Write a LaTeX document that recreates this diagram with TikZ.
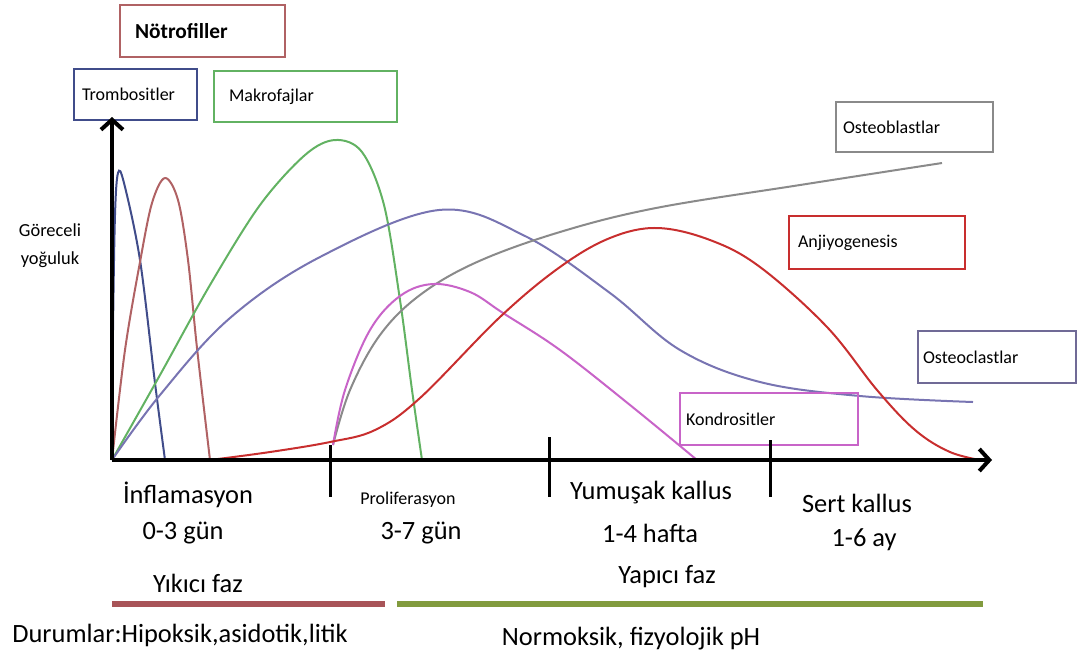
\documentclass[tikz,border=0pt]{standalone}
\usepackage{fontspec}
\setmainfont{Carlito}
\usepackage{xcolor}
\usepackage{tikz}
\usetikzlibrary{arrows.meta,calc,backgrounds}
\definecolor{rose3} {RGB} {176, 98, 100}
\definecolor{navy4} {RGB} {64, 76, 138}
\definecolor{leaf3} {RGB} {98, 178, 98}
\definecolor{slate5} {RGB} {138, 138, 138}
\definecolor{crimson2} {RGB} {200, 46, 46}
\definecolor{lilac4} {RGB} {120, 116, 178}
\definecolor{lilac6} {RGB} {112, 106, 150}
\definecolor{orchid3} {RGB} {200, 100, 200}
\definecolor{brick2} {RGB} {168, 84, 88}
\definecolor{olive3} {RGB} {130, 155, 62}
\tikzstyle{healing}=[
  x=0.5pt, y=-0.5pt, >={Straight Barb[length=5pt,width=11pt]}
]
\tikzstyle{cellbox}=[
  draw, line width=1pt, anchor=west, align=left, minimum height=26pt,
  font=\fontsize{9}{11}\selectfont
]
\tikzstyle{cellcurve}=[
  line width=1pt
]
\tikzstyle{phase}=[
  font=\fontsize{13.2}{16}\selectfont, inner sep=0pt
]
\tikzstyle{axisline}=[
  line width=2pt, ->
]
\tikzstyle{phasetick}=[
  line width=1.5pt
]
\tikzstyle{phasebar}=[
  line width=3pt
]

\begin{document}
\begin{tikzpicture}[healing]
\useasboundingbox (0,0) rectangle (1091,655);
\coordinate (origin) at (112,460);
\coordinate (ytip) at (112,117);
\coordinate (xtip) at (992,460);

\node (notro) [cellbox, draw=rose3, inner xsep=7.5pt, text width=67.5pt, font=\fontsize{10.7}{12}\selectfont\bfseries] at (119,31) {Nötrofiller};
\node (trombo) [cellbox, draw=navy4, inner xsep=4pt, text width=53.5pt, minimum height=25.5pt] at (73,94.5) {Trombositler};
\node (makro) [cellbox, draw=leaf3, inner xsep=7.5pt, text width=76.5pt, minimum height=25.5pt] at (213,96.5) {Makrofajlar};
\node (osteob) [cellbox, draw=slate5, inner xsep=3.5pt, text width=71.5pt, minimum height=25pt] at (835,127) {Osteoblastlar};
\node (anji) [cellbox, draw=crimson2, inner xsep=4.5pt, text width=79pt, minimum height=26.5pt] at (788,242.5) {Anjiyogenesis};
\node (osteoc) [cellbox, draw=lilac6, inner xsep=2.5pt, text width=74pt] at (917,357) {Osteoclastlar};
\node (kondro) [cellbox, draw=orchid3, inner xsep=3pt, text width=83pt] at (679,419) {Kondrositler};

\node (yaxis) [align=center, inner sep=0pt, font=\fontsize{9.2}{14}\selectfont] at (50,246) {Göreceli\\yoğuluk};

\node (inflam) [phase] at (188,495) {İnflamasyon};
\node (inflam time) [phase] at ($(inflam) + (-5, 38)$) {0-3 gün};
\node (prolif) [phase, font=\fontsize{9}{11}\selectfont] at (408,500) {Proliferasyon};
\node (prolif time) [phase] at ($(prolif) + (13, 33)$) {3-7 gün};
\node (soft) [phase] at (651,493) {Yumuşak kallus};
\node (soft time) [phase] at ($(soft) + (-1, 40)$) {1-4 hafta};
\node (hard) [phase] at (857,503) {Sert kallus};
\node (hard time) [phase] at ($(hard) + (7, 37)$) {1-6 ay};

\node (yikici) [phase] at (198,583) {Yıkıcı faz};
\node (yapici) [phase] at (667,577) {Yapıcı faz};
\node (durum) [phase] at (180,635) {Durumlar:Hipoksik,asidotik,litik};
\node (normo) [phase] at (631,639) {Normoksik, fizyolojik pH};

\coordinate (tick1 top) at (330,445);
\coordinate (tick1 bot) at (330,497);
\coordinate (tick2 top) at (549,437);
\coordinate (tick2 bot) at (549,497);
\coordinate (tick3 top) at (770,440);
\coordinate (tick3 bot) at (770,497);
\coordinate (bar1 start) at (112,604);
\coordinate (bar1 end) at (385,604);
\coordinate (bar2 start) at (397,604);
\coordinate (bar2 end) at (983,604);

\begin{scope}[on background layer]
\draw [cellcurve, navy4] plot[smooth, tension=0.55] coordinates
    {(112,460) (113,330) (115,215) (118,173) (124,183) (140,260) (155,383) (165,460)};
\draw [cellcurve, rose3] plot[smooth, tension=0.55] coordinates
    {(112,460) (125,350) (140,262) (152,203) (165,178) (178,200) (188,260) (197,348) (210,460)};
\draw [cellcurve, leaf3] plot[smooth, tension=0.55] coordinates
    {(112,460) (160,375) (210,285) (260,205) (305,155) (335,140) (362,152) (384,205) (400,300) (412,390) (422,460)};
\draw [cellcurve, lilac4] plot[smooth, tension=0.6] coordinates
    {(112,460) (160,395) (230,318) (320,257) (439,210) (525,236) (610,293) (680,350) (760,382) (860,396) (973,402)};
\draw [cellcurve, slate5] plot[smooth, tension=0.6] coordinates
    {(333,445) (350,390) (380,335) (420,295) (477,262) (560,232) (656,208) (800,185) (942,163)};
\draw [cellcurve, orchid3] plot[smooth, tension=0.6] coordinates
    {(333,445) (345,390) (370,330) (400,296) (433,284) (470,292) (503,313) (560,350) (630,405) (697,460)};
\draw [cellcurve, crimson2] plot[smooth, tension=0.6] coordinates
    {(210,460) (270,452) (330,442) (375,430) (420,398) (500,317) (560,267) (610,238) (657,228) (710,240) (760,267) (827,327) (877,390) (915,430) (950,452) (985,461)};
\end{scope}

\draw [axisline] (origin) -- (ytip);
\draw [axisline] (origin) -- (xtip);
\draw [phasetick] (tick1 top) -- (tick1 bot);
\draw [phasetick] (tick2 top) -- (tick2 bot);
\draw [phasetick] (tick3 top) -- (tick3 bot);
\draw [phasebar, brick2] (bar1 start) -- (bar1 end);
\draw [phasebar, olive3] (bar2 start) -- (bar2 end);
\end{tikzpicture}
\end{document}
